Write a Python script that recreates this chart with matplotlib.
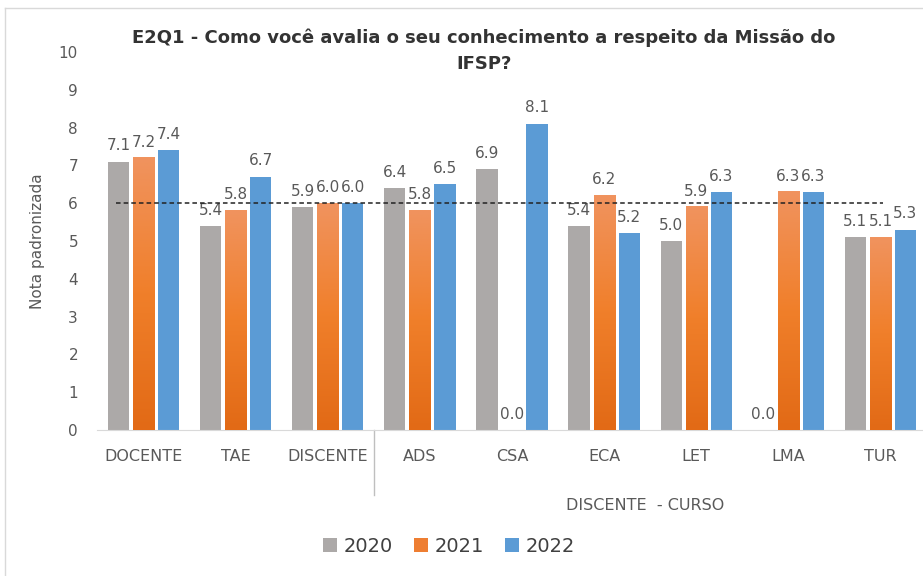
import matplotlib
matplotlib.use("Agg")
import matplotlib.pyplot as plt
import numpy as np
from matplotlib.colors import LinearSegmentedColormap
from matplotlib.patches import Patch
from matplotlib.lines import Line2D
import matplotlib.transforms as mtransforms

categories = ["DOCENTE", "TAE", "DISCENTE", "ADS", "CSA", "ECA", "LET", "LMA", "TUR"]
years = ["2020", "2021", "2022"]
v2020 = [7.1, 5.4, 5.9, 6.4, 6.9, 5.4, 5.0, 0.0, 5.1]
v2021 = [7.2, 5.8, 6.0, 5.8, 0.0, 6.2, 5.9, 6.3, 5.1]
v2022 = [7.4, 6.7, 6.0, 6.5, 8.1, 5.2, 6.3, 6.3, 5.3]
reference = 6.0
title = "E2Q1 - Como você avalia o seu conhecimento a respeito da Missão do\nIFSP?"
ylabel = "Nota padronizada"
group_label = "DISCENTE  - CURSO"

colors = ["#ACA9A8", "#EE7E32", "#5B9BD5"]
txt = "#595959"

fig = plt.figure(figsize=(9.23, 5.76), dpi=100)
ax = fig.add_axes([97.5 / 923, 146 / 576, 829 / 923, 378 / 576])

x = np.arange(len(categories))
width = 0.23
step = 0.272
series = [v2020, v2021, v2022]
orange_cmap = LinearSegmentedColormap.from_list("og", ["#F0935E", "#F07F2A", "#E26A16"])
grad = np.linspace(0, 1, 100).reshape(-1, 1)

for i, (vals, col) in enumerate(zip(series, colors)):
    pos = x + (i - 1) * step
    bars = ax.bar(pos, vals, width=width, color=col, zorder=2)
    if i == 1:
        for b in bars:
            h = b.get_height()
            if h > 0:
                ax.imshow(grad, cmap=orange_cmap, aspect="auto",
                          extent=[b.get_x(), b.get_x() + b.get_width(), 0, h],
                          origin="upper", zorder=3)
    for p, v in zip(pos, vals):
        ax.annotate(f"{v:.1f}", (p, v), xytext=(0, 6), textcoords="offset points",
                    ha="center", va="bottom", fontsize=11, color=txt)

ax.plot([-0.3, 8.03], [reference, reference], ls=(0, (3, 2)), color="#222222", lw=1.1, zorder=4)

ax.set_xlim(-0.5, 8.5)
ax.set_ylim(0, 10)
ax.set_yticks(range(0, 11))
ax.set_xticks(x)
ax.set_xticklabels(categories, fontsize=11.5, color=txt)
ax.tick_params(axis="both", length=0, labelcolor=txt)
ax.tick_params(axis="y", pad=14, labelsize=11)
ax.tick_params(axis="x", pad=14, labelsize=11.5)
for s in ["top", "right", "left"]:
    ax.spines[s].set_visible(False)
ax.spines["bottom"].set_color("#D9D9D9")
ax.set_ylabel(ylabel, fontsize=11, color=txt, labelpad=10)

trans = mtransforms.blended_transform_factory(ax.transData, ax.transAxes)
ax.add_line(Line2D([2.5, 2.5], [0, -0.172], transform=trans, color="#BFBFBF", lw=1, clip_on=False))
ax.text(5.45, -0.2, group_label, transform=trans, ha="center", va="center", fontsize=11.5, color=txt)

fig.text(484 / 923, 1 - 51 / 576, title, ha="center", va="center", fontsize=13,
         fontweight="bold", color="#333333", linespacing=1.6)

handles = [Patch(facecolor=c) for c in colors]
fig.legend(handles, years, loc="center", bbox_to_anchor=(449 / 923, 1 - 546 / 576), ncol=3,
           frameon=False, fontsize=14, handlelength=0.7, handleheight=0.7,
           handletextpad=0.35, columnspacing=1.1, labelcolor="#404040")

fig.add_artist(Line2D([5 / 923, 5 / 923], [0, 1 - 8 / 576], transform=fig.transFigure, color="#D9D9D9", lw=1))
fig.add_artist(Line2D([5 / 923, 1], [1 - 8 / 576, 1 - 8 / 576], transform=fig.transFigure, color="#D9D9D9", lw=1))

fig.savefig("out.png", dpi=100)
